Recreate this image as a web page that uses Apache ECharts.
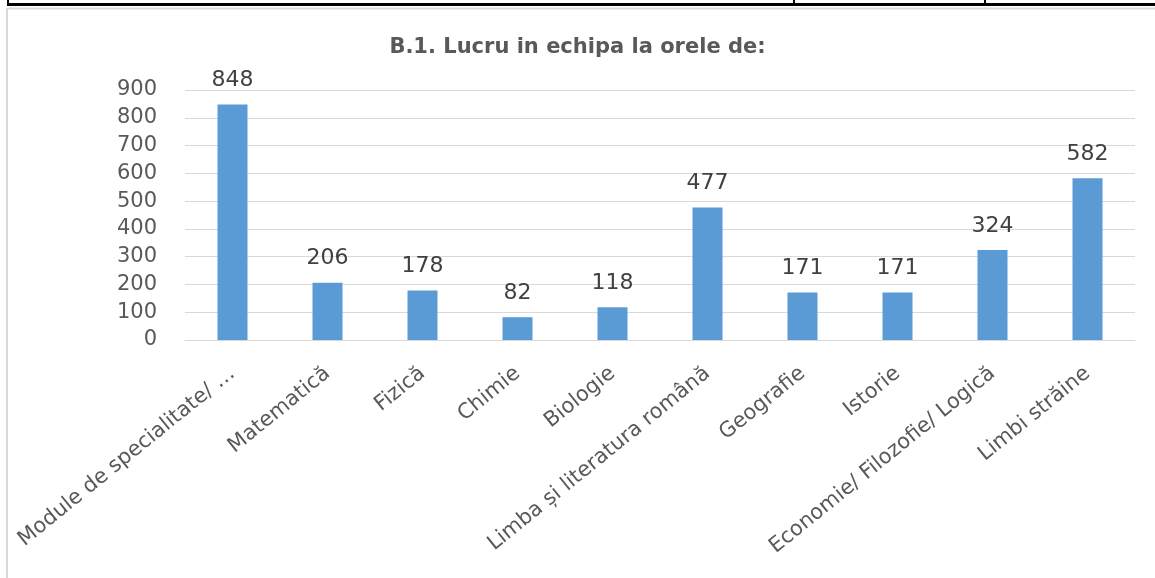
<!DOCTYPE html>
<html>
<head>
<meta charset="utf-8">
<script src="https://cdn.jsdelivr.net/npm/echarts@6/dist/echarts.min.js"></script>
<style>
html,body{margin:0;padding:0;background:#fff;}
#chart{width:1155px;height:578px;}
</style>
</head>
<body>
<div id="chart"></div>
<script>
const titleText = 'B.1. Lucru in echipa la orele de:';
const categories = [
  'Module de specialitate/ …',
  'Matematică',
  'Fizică',
  'Chimie',
  'Biologie',
  'Limba și literatura română',
  'Geografie',
  'Istorie',
  'Economie/ Filozofie/ Logică',
  'Limbi străine'
];
const values = [848, 206, 178, 82, 118, 477, 171, 171, 324, 582];
const yTicks = {min: 0, max: 900, interval: 100};

const chart = echarts.init(document.getElementById('chart'));
chart.setOption({
  backgroundColor: '#ffffff',
  animation: false,
  title: {
    text: titleText,
    left: 'center',
    top: 32,
    textStyle: {fontFamily: 'DejaVu Sans', fontWeight: 'bold', fontSize: 21, color: '#595959'}
  },
  grid: {left: 185, right: 20, top: 90, bottom: 238},
  xAxis: {
    type: 'category',
    data: categories,
    axisTick: {show: false},
    axisLine: {lineStyle: {color: '#d9d9d9', width: 1}},
    axisLabel: {
      rotate: 39,
      interval: 0,
      margin: 31,
      fontFamily: 'DejaVu Sans',
      fontSize: 21,
      color: '#595959'
    }
  },
  yAxis: {
    type: 'value',
    min: yTicks.min,
    max: yTicks.max,
    interval: yTicks.interval,
    axisLine: {show: false},
    axisTick: {show: false},
    splitLine: {lineStyle: {color: '#d9d9d9', width: 1}},
    axisLabel: {margin: 28, fontFamily: 'DejaVu Sans', fontSize: 21, color: '#595959'}
  },
  series: [{
    type: 'bar',
    data: values,
    barWidth: 30,
    itemStyle: {color: '#5b9bd5'},
    label: {
      show: true,
      position: 'top',
      distance: 13,
      fontFamily: 'DejaVu Sans',
      fontSize: 22,
      color: '#404040'
    }
  }],
  graphic: [
    {type: 'line', shape: {x1: 7, y1: 8.5, x2: 1155, y2: 8.5}, style: {stroke: '#d9d9d9', lineWidth: 2}},
    {type: 'line', shape: {x1: 7, y1: 8, x2: 7, y2: 578}, style: {stroke: '#d9d9d9', lineWidth: 2}},
    {type: 'line', shape: {x1: 7, y1: 4.5, x2: 1155, y2: 4.5}, style: {stroke: '#000000', lineWidth: 3}},
    {type: 'line', shape: {x1: 8, y1: 0, x2: 8, y2: 5}, style: {stroke: '#000000', lineWidth: 2}},
    {type: 'line', shape: {x1: 794, y1: 0, x2: 794, y2: 5}, style: {stroke: '#000000', lineWidth: 2}},
    {type: 'line', shape: {x1: 985, y1: 0, x2: 985, y2: 5}, style: {stroke: '#000000', lineWidth: 2}}
  ]
});
</script>
</body>
</html>
